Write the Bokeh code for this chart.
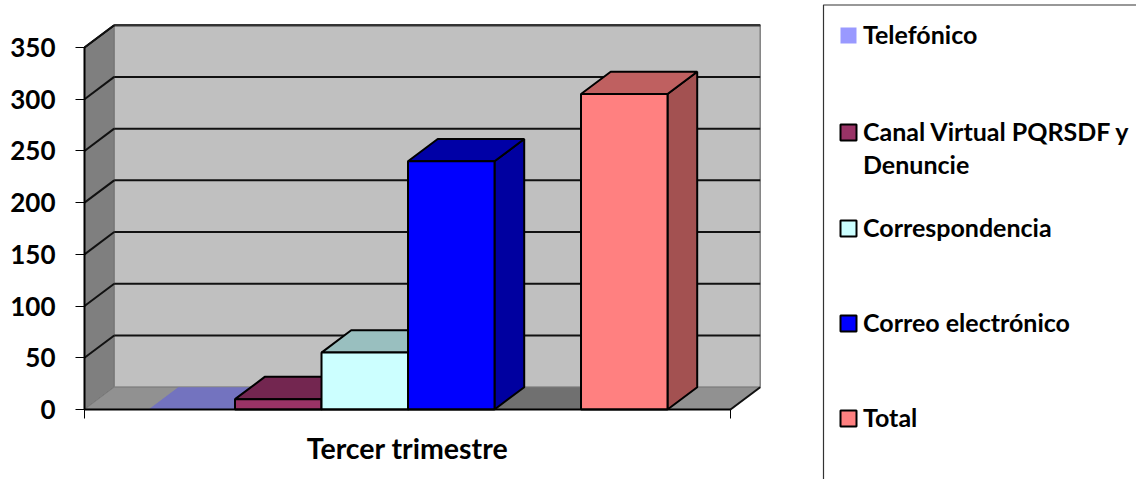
from bokeh.plotting import figure
from bokeh.embed import file_html
from bokeh.resources import INLINE
from bokeh.models import FixedTicker, Range1d
from bokeh.core.properties import value

# ---- data ----
categories = ["Tercer trimestre"]
series_names = ["Telefónico", "Canal Virtual PQRSDF y\nDenuncie", "Correspondencia", "Correo electrónico", "Total"]
series_values = [0, 10, 55, 240, 305]
series_slots = [0, 1, 2, 3, 5]   # Total sits one empty slot after Correo electrónico
y_ticks = [0, 50, 100, 150, 200, 250, 300, 350]

front_colors = ["#9999FF", "#993366", "#CCFFFF", "#0000FF", "#FF8080"]
top_colors = ["#7373BF", "#732650", "#99BFBF", "#0000A6", "#BF6060"]
side_colors = ["#6666AA", "#662244", "#88AAAA", "#0000A0", "#A35151"]

# ---- layout ----
W, H = 1136, 479
X0_PX, Y0_PX = 84, 409          # chart origin in page pixels
PX_PER_SLOT = 86.5
PX_PER_UNIT = 362 / 350
GAP = 0.74                      # space before first bar, in slots
AXIS_LEN = 646 / PX_PER_SLOT
DX = 29.7 / PX_PER_SLOT         # 3D depth
DY = 22.3 / PX_PER_UNIT
Y_MAX = 350

fx = lambda px: (px - X0_PX) / PX_PER_SLOT
fy = lambda py: (Y0_PX - py) / PX_PER_UNIT

p = figure(width=W, height=H, output_backend="svg", toolbar_location=None,
           x_range=Range1d(fx(0), fx(W)), y_range=Range1d(fy(H), fy(0)),
           min_border_left=0, min_border_right=0, min_border_top=0,
           min_border_bottom=0, background_fill_color="white",
           border_fill_color="white", outline_line_color=None)
p.grid.visible = False

FONT = "Lato"
# walls and floor
p.patch([0, DX, DX, 0], [0, DY, Y_MAX + DY, Y_MAX], fill_color="#7F7F7F", line_color="#555555", line_width=1)
p.patch([DX, AXIS_LEN + DX, AXIS_LEN + DX, DX], [DY, DY, Y_MAX + DY, Y_MAX + DY],
        fill_color="#C0C0C0", line_color="#808080", line_width=1.5)
p.patch([0, DX, AXIS_LEN + DX, AXIS_LEN], [0, DY, DY, 0], fill_color="#919191", line_color="#808080", line_width=1)

# dark floor under the empty slot
sl = GAP + 4
p.patch([sl, sl + DX, sl + 1 + DX, sl + 1], [0, DY, DY, 0], fill_color="#707070", line_color=None)

# gridlines
grid_values = [v for v in y_ticks if v > 0]
p.multi_line([[DX, AXIS_LEN + DX] for _ in grid_values], [[v + DY, v + DY] for v in grid_values],
             line_color="#111111", line_width=2)
p.multi_line([[0, DX] for _ in y_ticks[1:]], [[v, v + DY] for v in y_ticks[1:]], line_color="#111111", line_width=2)
p.line([DX, AXIS_LEN + DX], [Y_MAX + DY, Y_MAX + DY], line_color="#333333", line_width=2)
p.line([0, DX], [Y_MAX, Y_MAX + DY], line_color="#111111", line_width=2)
p.line([AXIS_LEN, AXIS_LEN + DX], [0, DY], line_color="#111111", line_width=2)

# bars
for s, v, fc, tc, sc in zip(series_slots, series_values, front_colors, top_colors, side_colors):
    l = GAP + s
    r = l + 1
    lc = None if v == 0 else "black"
    p.patch([r, r + DX, r + DX, r], [0, DY, v + DY, v], fill_color=sc, line_color=lc, line_width=2)
    p.patch([l, l + DX, r + DX, r], [v, v + DY, v + DY, v], fill_color=tc, line_color=lc, line_width=2)
    if v > 0:
        p.quad(left=[l], right=[r], bottom=[0], top=[v], fill_color=fc, line_color="black", line_width=2)

# axes
ya = p.yaxis[0]
ya.fixed_location = 0
ya.ticker = FixedTicker(ticks=y_ticks)
ya.bounds = (0, Y_MAX)
ya.axis_line_color = "black"
ya.axis_line_width = 2
ya.major_tick_in = 0
ya.major_tick_out = 9
ya.major_tick_line_color = "black"
ya.major_tick_line_width = 1
ya.minor_tick_line_color = None
ya.major_label_text_font = FONT
ya.major_label_text_font_style = "bold"
ya.major_label_text_font_size = "26px"
ya.major_label_text_color = "black"
ya.major_label_standoff = 20

xa = p.xaxis[0]
xa.fixed_location = 0
mid = AXIS_LEN / 2
xa.ticker = FixedTicker(ticks=[mid], minor_ticks=[0, AXIS_LEN])
xa.major_label_overrides = {mid: categories[0]}
xa.bounds = (0, AXIS_LEN)
xa.axis_line_color = "black"
xa.axis_line_width = 2
xa.major_tick_line_color = None
xa.major_tick_in = 0
xa.major_tick_out = 0
xa.minor_tick_line_color = "black"
xa.minor_tick_line_width = 1
xa.minor_tick_in = 0
xa.minor_tick_out = 9
xa.major_label_text_font = FONT
xa.major_label_text_font_style = "bold"
xa.major_label_text_font_size = "28.5px"
xa.major_label_text_color = "black"
xa.major_label_standoff = 12

# legend box (open at right and bottom edges)
p.line([fx(823), fx(823), fx(W)], [fy(H), fy(4.5), fy(4.5)], line_color="#333333", line_width=1.2)

row_y = [35, 132, 228, 323, 418]
sw = 8
for name, py, fc, v in zip(series_names, row_y, front_colors, series_values):
    p.quad(left=[fx(840)], right=[fx(856)], bottom=[fy(py + sw)], top=[fy(py - sw)],
           fill_color=fc, line_color=None if v == 0 else "black", line_width=2)
    lines = name.split("\n")
    for i, t in enumerate(lines):
        p.text(x=[fx(862.5)], y=[fy(py - 2 + i * 33)], text=[t], text_font=value(FONT), text_font_style="bold",
               text_font_size="25px", text_color="black", text_baseline="middle", text_align="left")

open("out.html", "w").write(file_html(p, INLINE))
